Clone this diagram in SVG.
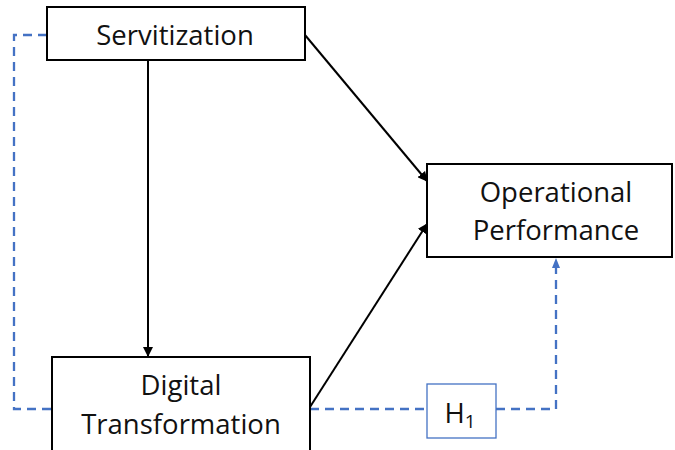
<svg xmlns="http://www.w3.org/2000/svg" width="675" height="450" viewBox="0 0 675 450">
<style>
.box{fill:#fff;stroke:#000;stroke-width:2}
.hbox{fill:#fff;stroke:#4472c4;stroke-width:1.3}
.lbl{font-family:"Open Sans","Liberation Sans",sans-serif;font-size:27.5px;fill:#111;text-anchor:middle}
.arr{stroke:#000;stroke-width:2;fill:none;marker-end:url(#ah)}
.dash{stroke:#4472c4;stroke-width:2.3;fill:none;stroke-dasharray:9,6}
</style>
<defs>
<marker id="ah" markerWidth="10" markerHeight="10" refX="9" refY="5" orient="auto" markerUnits="userSpaceOnUse"><path d="M0,0 L10,5 L0,10 z" fill="#000"/></marker>
<marker id="bh" markerWidth="10" markerHeight="10" refX="9" refY="5" orient="auto" markerUnits="userSpaceOnUse"><path d="M0,1 L10,5 L0,9 z" fill="#4472c4"/></marker>
</defs>
<g id="connectors">
<path class="dash" d="M47,35 H14 V409 H52"/>
<path class="dash" d="M310,409 H427"/>
<path class="dash" d="M496,409 H556 V259" marker-end="url(#bh)"/>
<line class="arr" x1="148" y1="60" x2="148" y2="356"/>
<line class="arr" x1="305" y1="35" x2="427" y2="181"/>
<line class="arr" x1="310" y1="407" x2="427" y2="224"/>
</g>
<g id="servitization">
<rect class="box" x="47" y="7" width="258" height="53"/>
<text class="lbl" x="175" y="45">Servitization</text>
</g>
<g id="digital">
<rect class="box" x="52" y="357" width="258" height="96"/>
<text class="lbl" x="181" y="395">Digital</text>
<text class="lbl" x="181" y="434">Transformation</text>
</g>
<g id="operational">
<rect class="box" x="427" y="164" width="245" height="93"/>
<text class="lbl" x="556" y="202">Operational</text>
<text class="lbl" x="556" y="240">Performance</text>
</g>
<g id="h1">
<rect class="hbox" x="427" y="384" width="69" height="54"/>
<text class="lbl" x="460" y="423" font-size="29">H<tspan font-size="19" dy="5">1</tspan></text>
</g>
</svg>
